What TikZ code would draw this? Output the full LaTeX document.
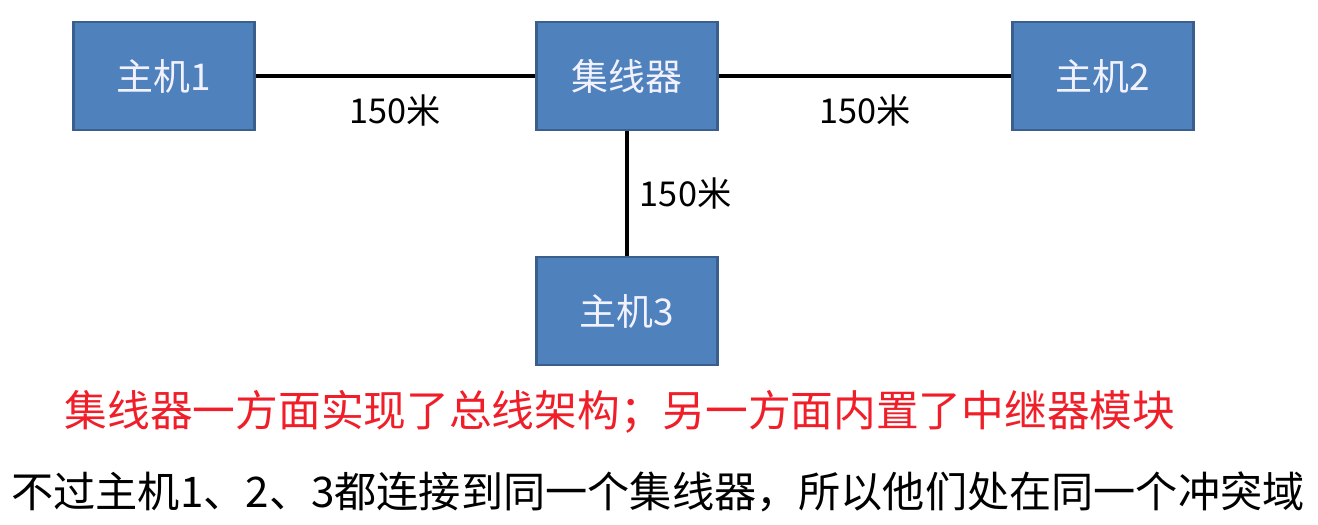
\documentclass[tikz,border=0pt]{standalone}
\usepackage{fontspec}
\setmainfont{Noto Sans CJK SC}
\usepackage{xcolor}
\usepackage{tikz}
\usetikzlibrary{positioning}

\definecolor{hostfill}{HTML}{4F81BD}
\definecolor{hostdraw}{HTML}{3A5F8C}
\definecolor{notered}{HTML}{F01E28}

\begin{document}
\begin{tikzpicture}[
  host/.style={rectangle, draw=hostdraw, line width=1.6pt, fill=hostfill,
               minimum width=3.62cm, minimum height=2.16cm, text=white!95!blue,
               font=\fontsize{21}{25}\selectfont},
  cable/.style={line width=2.4pt, black},
  dist/.style={font=\fontsize{19.5}{23}\selectfont}
]
\useasboundingbox (0,0) rectangle (26.36,-10.48);
\node[host] (h1)  at (3.28,-1.52)  {主机1};
\node[host] (hub) at (12.54,-1.52) {集线器};
\node[host] (h2)  at (22.06,-1.52) {主机2};
\node[host] (h3)  at (12.54,-6.22) {主机3};
\draw[cable] (h1)  -- node[dist, below=0.22cm] (d1) {150米} (hub);
\draw[cable] (hub) -- node[dist, below=0.22cm] (d2) {150米} (h2);
\draw[cable] (hub) -- node[dist, right=0.1cm] (d3) {150米} (h3);
\node[text=notered, font=\fontsize{24.3}{29}\selectfont] (red) at (12.4,-8.24)
  {集线器一方面实现了总线架构；另一方面内置了中继器模块};
\node[font=\fontsize{24}{29}\selectfont] (note) at (13.16,-9.84)
  {不过主机1、2、3都连接到同一个集线器，所以他们处在同一个冲突域};
\end{tikzpicture}
\end{document}
